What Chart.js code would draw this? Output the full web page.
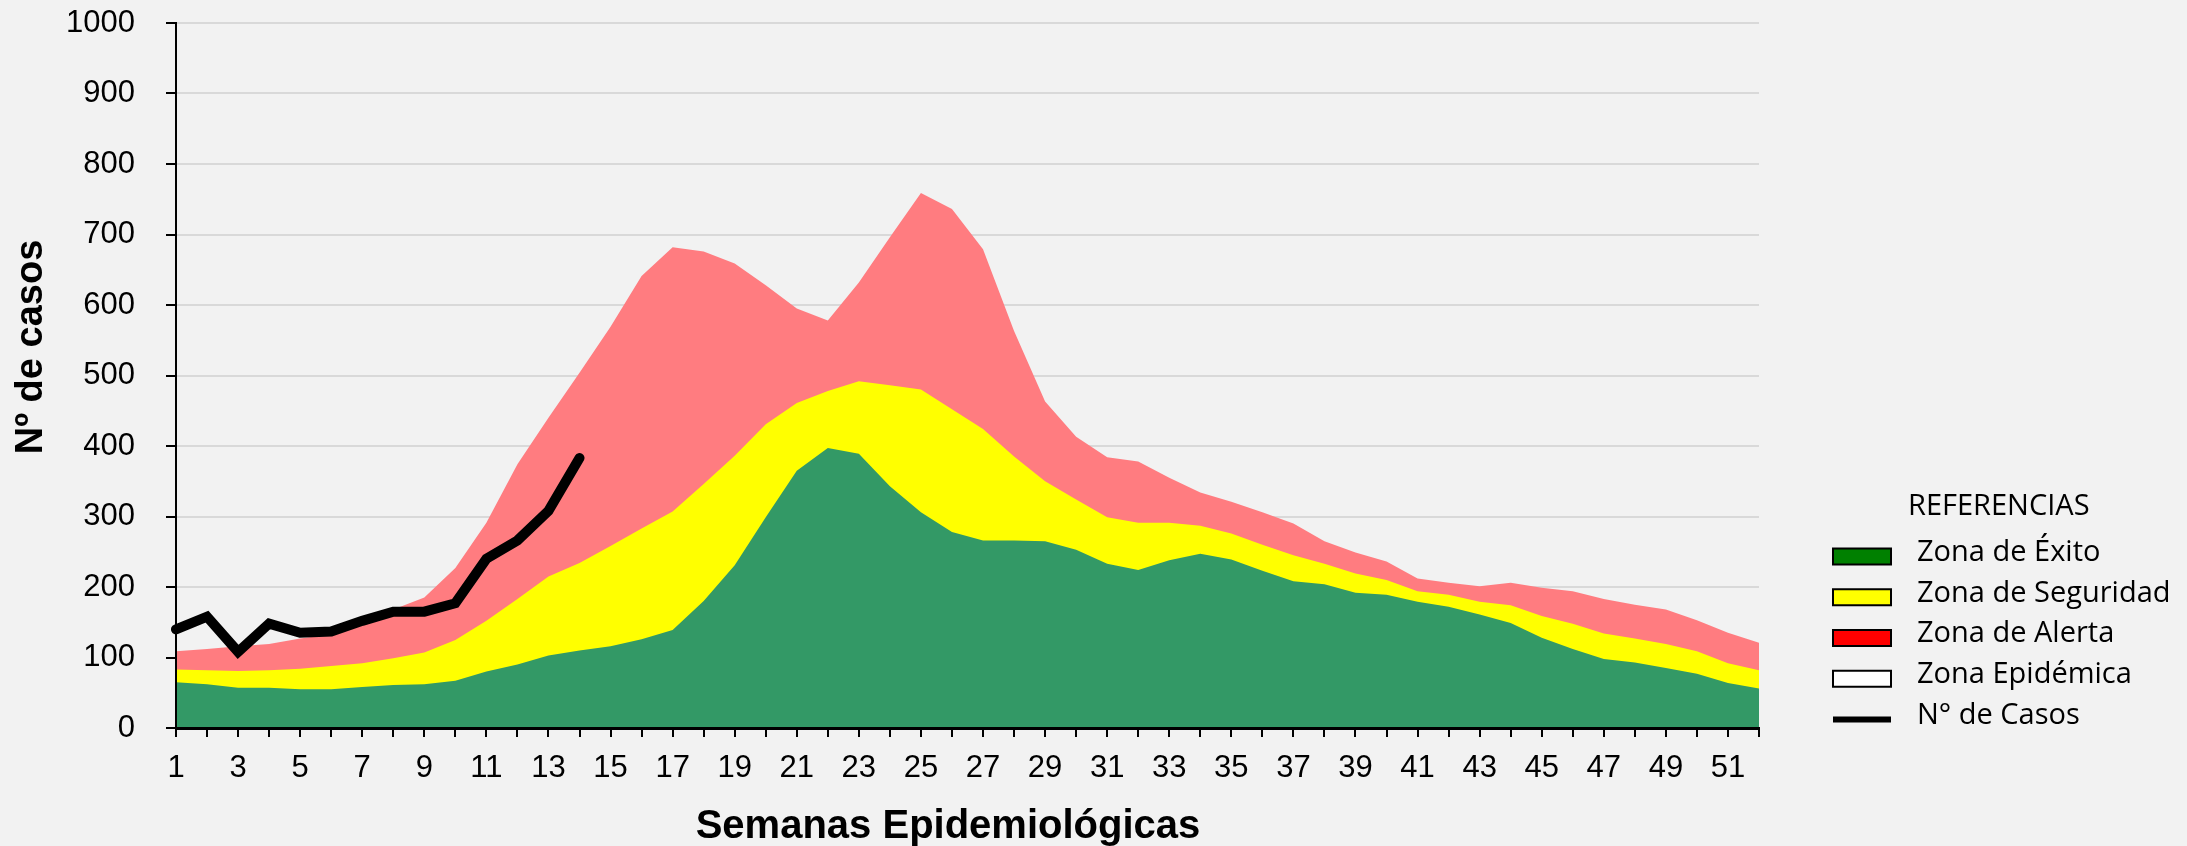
<!DOCTYPE html>
<html>
<head>
<meta charset="utf-8">
<script src="https://cdn.jsdelivr.net/npm/chart.js@4.4.1/dist/chart.umd.min.js"></script>
<style>
html,body{margin:0;padding:0;background:#F2F2F2;}
canvas{display:block;}
</style>
</head>
<body>
<canvas id="c" width="2187" height="846"></canvas>
<script>
const semanas = ['1','2','3','4','5','6','7','8','9','10','11','12','13','14','15','16','17','18','19','20','21','22','23','24','25','26','27','28','29','30','31','32','33','34','35','36','37','38','39','40','41','42','43','44','45','46','47','48','49','50','51','52'];

// upper boundary of each zone (cumulative)
const zonaExito = [65,62,57,57,55,55,58,61,62,67,80,90,103,110,116,126,139,180,231,299,365,397,389,343,306,278,266,266,265,253,233,224,238,247,239,223,208,204,192,189,179,172,161,149,128,112,98,93,85,77,64,56];
const zonaSeguridad = [83,82,81,82,84,88,92,99,107,125,152,183,215,234,258,283,307,346,386,431,461,478,492,486,480,452,424,385,350,324,299,291,291,287,276,260,245,233,219,210,194,189,179,174,159,148,134,127,119,109,92,82];
const zonaAlerta = [109,112,116,119,127,133,148,168,185,227,291,374,440,504,569,641,682,676,659,628,595,578,632,696,759,736,679,563,463,413,384,378,355,334,321,306,290,265,249,236,212,206,201,206,199,194,183,175,168,153,135,121];
const casos = [140,158,108,148,135,137,152,165,165,177,240,266,308,383];

const yTitle = 'Nº de casos';
const xTitle = 'Semanas Epidemiológicas';
const legendTitle = 'REFERENCIAS';
const legendLabels = ['Zona de Éxito','Zona de Seguridad','Zona de Alerta','Zona Epidémica','N° de Casos'];
const legendColors = ['#008000','#FFFF00','#FF0000','#FFFFFF','#000000'];
const legendKinds = ['box','box','box','box','line'];

const baseFont = '"Liberation Sans", Arial, sans-serif';

const bgPlugin = {
  id: 'bg',
  beforeDraw(chart) {
    const ctx = chart.ctx;
    ctx.save();
    ctx.fillStyle = '#F2F2F2';
    ctx.fillRect(0, 0, chart.width, chart.height);
    ctx.restore();
  }
};

const titlePlugin = {
  id: 'axisTitles',
  afterDraw(chart) {
    const ctx = chart.ctx;
    ctx.save();
    ctx.fillStyle = '#000';
    ctx.textAlign = 'center';
    ctx.textBaseline = 'middle';
    ctx.font = 'bold 40px ' + baseFont;
    ctx.fillText(xTitle, 948, 827);
    ctx.translate(32, 347);
    ctx.rotate(-Math.PI / 2);
    ctx.font = 'bold 38px ' + baseFont;
    ctx.fillText(yTitle, 0, 0);
    ctx.restore();
  }
};

const legendPlugin = {
  id: 'refLegend',
  afterDraw(chart) {
    const ctx = chart.ctx;
    ctx.save();
    ctx.font = '29px "Open Sans", sans-serif';
    ctx.fillStyle = '#000';
    ctx.textBaseline = 'middle';
    ctx.textAlign = 'left';
    ctx.fillText(legendTitle, 1908, 507);
    const y0 = 556.5, dy = 40.75, sx = 1833, sw = 58, sh = 16, tx = 1917;
    legendLabels.forEach((lab, i) => {
      const cy = y0 + i * dy;
      if (legendKinds[i] === 'box') {
        ctx.fillStyle = legendColors[i];
        ctx.fillRect(sx, cy - sh / 2, sw, sh);
        ctx.strokeStyle = '#000';
        ctx.lineWidth = 2;
        ctx.strokeRect(sx, cy - sh / 2, sw, sh);
      } else {
        ctx.fillStyle = legendColors[i];
        ctx.fillRect(sx, cy - 3, sw, 6);
      }
      ctx.fillStyle = '#000';
      ctx.fillText(lab, tx, cy - 4);
    });
    ctx.restore();
  }
};

new Chart(document.getElementById('c'), {
  type: 'line',
  data: {
    labels: semanas,
    datasets: [
      {label: 'N° de Casos', data: casos, borderColor: '#000000', borderWidth: 10, pointRadius: 0, fill: false, tension: 0, borderCapStyle: 'round', borderJoinStyle: 'miter'},
      {label: 'Zona de Éxito', data: zonaExito, backgroundColor: '#339966', borderColor: 'rgba(0,0,0,0)', borderWidth: 0, pointRadius: 0, fill: 'origin', tension: 0},
      {label: 'Zona de Seguridad', data: zonaSeguridad, backgroundColor: '#FFFF00', borderColor: 'rgba(0,0,0,0)', borderWidth: 0, pointRadius: 0, fill: 'origin', tension: 0},
      {label: 'Zona de Alerta', data: zonaAlerta, backgroundColor: '#FF7C80', borderColor: 'rgba(0,0,0,0)', borderWidth: 0, pointRadius: 0, fill: 'origin', tension: 0}
    ]
  },
  options: {
    responsive: false,
    animation: false,
    devicePixelRatio: 1,
    layout: {padding: {left: 0, right: 428, top: 23, bottom: 0}},
    plugins: {legend: {display: false}, tooltip: {enabled: false}},
    scales: {
      x: {
        type: 'category',
        offset: false,
        grid: {drawOnChartArea: false, drawTicks: true, tickLength: 9, color: '#000000', lineWidth: 2},
        border: {display: true, color: '#000000', width: 3, z: 1},
        ticks: {
          autoSkip: false, maxRotation: 0, minRotation: 0, padding: 13, color: '#000000',
          font: {family: baseFont, size: 31},
          callback: function (v, i) { return i % 2 === 0 ? this.getLabelForValue(v) : ''; }
        },
        title: {display: false},
        afterFit(s) { s.height = 118; s.paddingLeft = 0; s.paddingRight = 0; }
      },
      y: {
        min: 0, max: 1000,
        ticks: {stepSize: 100, padding: 31, color: '#000000', font: {family: baseFont, size: 31}, callback: (v) => String(v)},
        grid: {color: '#D9D9D9', lineWidth: 2, tickColor: '#000000', tickLength: 10, drawTicks: true},
        border: {display: true, color: '#000000', width: 2, z: 1},
        title: {display: false},
        afterFit(s) { s.width = 176; s.paddingTop = 0; s.paddingBottom = 0; }
      }
    }
  },
  plugins: [bgPlugin, titlePlugin, legendPlugin]
});
</script>
</body>
</html>
